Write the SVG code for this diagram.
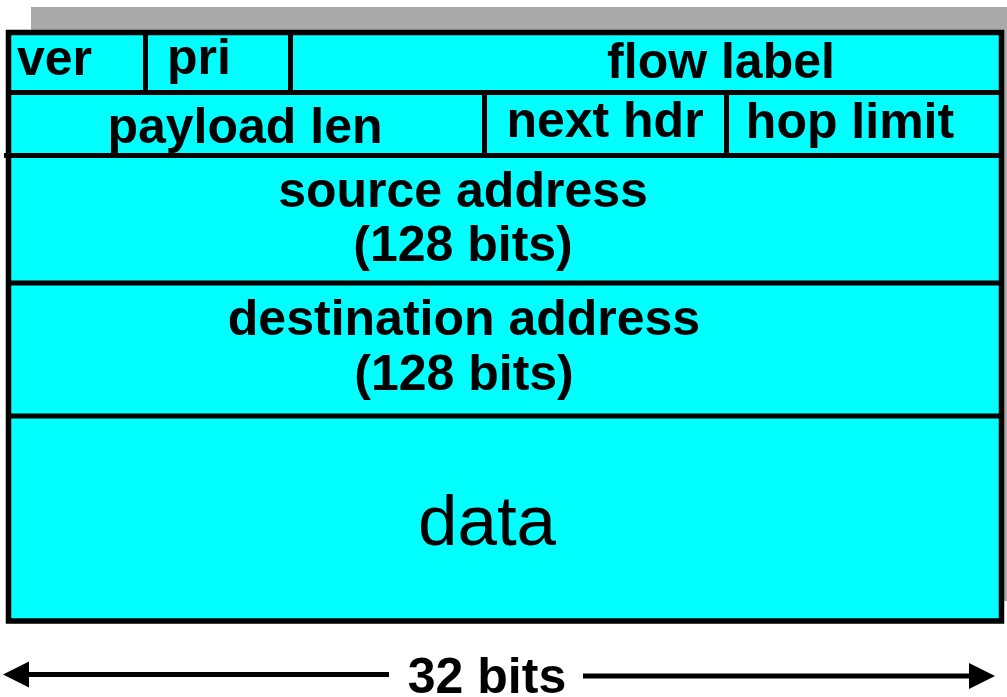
<svg xmlns="http://www.w3.org/2000/svg" width="1007" height="697" viewBox="0 0 1007 697">
<style>
.cell{fill:#00ffff;stroke:none}
.ln{stroke:#000;stroke-width:5;fill:none}
.t{font-family:"Liberation Sans",Arial,sans-serif;font-weight:bold;font-size:50px;fill:#000}
.m{text-anchor:middle}
.data{font-family:"Liberation Sans",Arial,sans-serif;font-size:71px;fill:#000;text-anchor:middle}
.arr{stroke:#000;stroke-width:5;fill:none;marker-end:url(#head)}
</style>
<defs>
<marker id="head" markerUnits="userSpaceOnUse" markerWidth="27" markerHeight="27" refX="0" refY="13" orient="auto" viewBox="0 0 27 27">
<path d="M0,0 L26,13 L0,26 z" fill="#000"/>
</marker>
</defs>
<rect x="31" y="7" width="990" height="594" fill="#aaaaaa"/>
<rect x="8.5" y="32.5" width="993" height="588.5" class="cell"/>
<g id="frame">
<rect x="8.5" y="32.5" width="993" height="588.5" fill="none" stroke="#000" stroke-width="5.5"/>
<line class="ln" x1="8.5" y1="92.5" x2="1001.5" y2="92.5"/>
<line class="ln" x1="4" y1="155.5" x2="1001.5" y2="155.5"/>
<line class="ln" x1="8.5" y1="283" x2="1001.5" y2="283"/>
<line class="ln" x1="8.5" y1="416" x2="1001.5" y2="416"/>
<line class="ln" x1="145.5" y1="32.5" x2="145.5" y2="92.5"/>
<line class="ln" x1="290.5" y1="32.5" x2="290.5" y2="92.5"/>
<line class="ln" x1="484.5" y1="92.5" x2="484.5" y2="155.5"/>
<line class="ln" x1="726.5" y1="92.5" x2="726.5" y2="155.5"/>
</g>
<g id="ver"><text class="t" x="17" y="75">ver</text></g>
<g id="pri"><text class="t" x="167" y="74">pri</text></g>
<g id="flow-label"><text class="t m" x="721" y="78">flow label</text></g>
<g id="payload-len"><text class="t m" x="245" y="143">payload len</text></g>
<g id="next-hdr"><text class="t m" x="605" y="137">next hdr</text></g>
<g id="hop-limit"><text class="t m" x="850" y="138">hop limit</text></g>
<g id="source-address"><text class="t m" x="463" y="207">source address</text><text class="t m" x="463" y="261">(128 bits)</text></g>
<g id="destination-address"><text class="t m" x="464" y="335">destination address</text><text class="t m" x="464" y="390">(128 bits)</text></g>
<g id="data"><text class="data" x="487" y="545">data</text></g>
<g id="width-label"><text class="t m" x="487" y="693">32 bits</text></g>
<g id="connectors">
<path class="arr" d="M389,674.5 L29,674.5"/>
<path class="arr" d="M583,676 L969,676"/>
</g>
</svg>
